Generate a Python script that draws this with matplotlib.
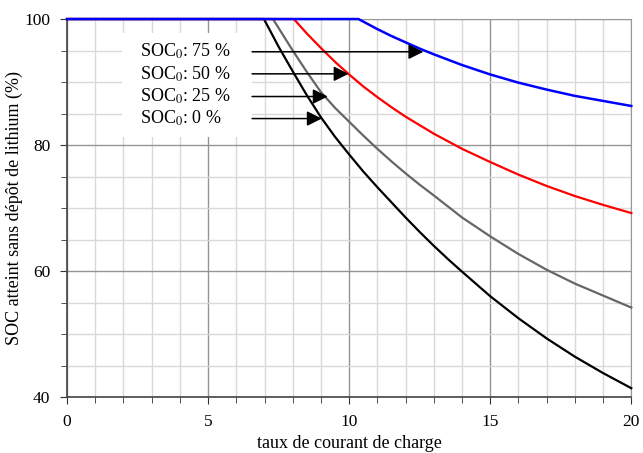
import matplotlib.pyplot as plt
from matplotlib.patches import Rectangle
import numpy as np

plt.rcParams['font.family'] = ['Liberation Serif', 'DejaVu Serif']
plt.rcParams['mathtext.fontset'] = 'stix'

# values
x_black = [0, 6.98, 7.5, 8, 8.5, 9, 9.5, 10, 10.5, 11, 11.5, 12, 12.5, 13, 13.5, 14, 15, 16, 17, 18, 19, 20]
y_black = [100, 100, 95.6, 91.7, 87.9, 84.4, 81.3, 78.5, 75.8, 73.3, 70.9, 68.5, 66.2, 64.0, 61.9, 59.9, 56.0, 52.5, 49.3, 46.4, 43.8, 41.4]

x_gray = [0, 7.3, 8, 8.5, 9, 9.5, 10, 10.5, 11, 11.5, 12, 12.5, 13, 14, 15, 16, 17, 18, 19, 20]
y_gray = [100, 100, 95.0, 91.6, 88.4, 85.9, 83.7, 81.5, 79.4, 77.4, 75.5, 73.7, 72.0, 68.5, 65.5, 62.7, 60.2, 58.0, 56.1, 54.2]

x_red = [0, 8.04, 8.5, 9, 9.5, 10, 10.5, 11, 11.5, 12, 13, 14, 15, 16, 17, 18, 19, 20]
y_red = [100, 100, 97.7, 95.4, 93.2, 91.2, 89.3, 87.6, 86.0, 84.5, 81.8, 79.4, 77.3, 75.3, 73.5, 71.9, 70.5, 69.2]

x_blue = [0, 10.33, 11, 11.5, 12, 12.5, 13, 14, 15, 16, 17, 18, 19, 20]
y_blue = [100, 100, 98.4, 97.3, 96.3, 95.3, 94.4, 92.7, 91.2, 89.9, 88.8, 87.8, 87.0, 86.2]

labels = ['SOC$_0$: 75 %', 'SOC$_0$: 50 %', 'SOC$_0$: 25 %', 'SOC$_0$: 0 %']
label_y = [94.8, 91.3, 87.7, 84.2]
arrow_tip_x = [12.63, 9.98, 9.24, 9.03]

fig = plt.figure(figsize=(6.43, 4.53), dpi=100)
ax = fig.add_axes([0.1042, 0.1236, 0.8776, 0.8344])

ax.set_xlim(0, 20)
ax.set_ylim(40, 100)
ax.set_xticks(np.arange(0, 21, 5))
ax.set_xticks(np.arange(0, 21, 1), minor=True)
ax.set_yticks(np.arange(40, 101, 20))
ax.set_yticks(np.arange(40, 101, 5), minor=True)

ax.grid(which='minor', color='#d9d9d9', lw=1.0, zorder=0)
ax.grid(which='major', color='#949494', lw=1.0, zorder=0)
ax.set_axisbelow(True)

ax.tick_params(which='both', direction='out', colors='#333333', labelcolor='black', labelsize=12.5)
ax.tick_params(which='major', length=5, pad=7)
ax.tick_params(which='minor', length=4)
for side in ['top', 'right']:
    ax.spines[side].set_color('#999999')
for side in ['left', 'bottom']:
    ax.spines[side].set_color('#444444')
    ax.spines[side].set_linewidth(1.2)

# white box behind labels
ax.add_patch(Rectangle((1.94, 81.2), 4.62, 16.6, facecolor='white', edgecolor='none', zorder=1))

ax.plot(x_black, y_black, color='black', lw=1.6, zorder=3, clip_on=False)
ax.plot(x_gray, y_gray, color='#666666', lw=1.6, zorder=3, clip_on=False)
ax.plot(x_red, y_red, color='#ff0000', lw=1.6, zorder=3, clip_on=False)
ax.plot(x_blue, y_blue, color='#0000ff', lw=1.8, zorder=4, clip_on=False)

for lab, yy, tip in zip(labels, label_y, arrow_tip_x):
    ax.text(2.6, yy, lab, fontsize=13, va='center', ha='left', zorder=5)
    ax.annotate('', xy=(tip, yy), xytext=(6.56, yy),
                arrowprops=dict(arrowstyle='-|>,head_length=0.6,head_width=0.3',
                                mutation_scale=15, color='black', lw=1.1,
                                shrinkA=0, shrinkB=0),
                zorder=5)

ax.set_xlabel('taux de courant de charge', fontsize=13, labelpad=4)
ax.set_ylabel('SOC atteint sans dépôt de lithium (%)', fontsize=13, labelpad=1)

fig.savefig('out.png', dpi=100)
